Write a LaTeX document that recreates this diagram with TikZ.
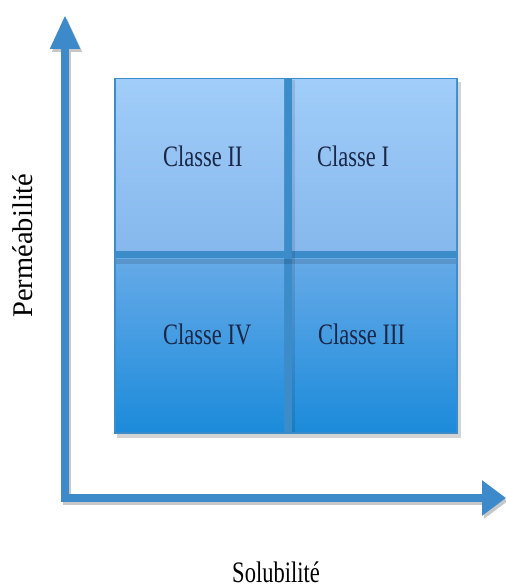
\documentclass[tikz,border=0pt]{standalone}
\usepackage{fontspec}
\setmainfont{Liberation Serif}
\usepackage{graphicx}
\usepackage{xcolor}
\usepackage{tikz}
\usetikzlibrary{arrows.meta,shadows}
\definecolor{axis}{HTML}{3D8ACB}
\definecolor{rule}{HTML}{3C8CC9}
\definecolor{hitop}{HTML}{A0CDF9}
\definecolor{hibot}{HTML}{86B8ED}
\definecolor{lotop}{HTML}{66AAE8}
\definecolor{lobot}{HTML}{1C8BDA}
\definecolor{ink}{HTML}{1A2747}
\newcommand{\tall}[1]{\scalebox{1}[1.32]{#1}}
\tikzset{
  axisline/.style={draw=axis, line width=8pt, line join=miter,
    {Triangle[width=28pt,length=34pt]}-{Triangle[width=34pt,length=24pt]}},
  axisshade/.style={axisline, draw=black!22, transform canvas={shift={(2pt,-3pt)}}},
  frame/.style={fill=rule, inner sep=0pt, minimum width=344pt, minimum height=356pt,
    drop shadow={shadow xshift=3pt, shadow yshift=-4pt, opacity=0.35}},
  hicell/.style={top color=hitop, bottom color=hibot, inner sep=0pt, minimum height=171pt},
  locell/.style={top color=lotop, bottom color=lobot, inner sep=0pt, minimum height=173pt},
  lab/.style={text=ink, inner sep=0pt, font=\fontsize{22.5}{27}\selectfont},
  labr/.style={text=black, inner sep=0pt, font=\fontsize{28.5}{32}\selectfont},
}

\begin{document}
\begin{tikzpicture}[x=1pt,y=1pt]
  \useasboundingbox (0,0) rectangle (506,587);
  \coordinate (ytop) at (65,572);
  \coordinate (orig) at (65,89);
  \coordinate (xtip) at (506,89);

  % axes
  \draw[axisshade] (ytop) -- (orig) -- (xtip);
  \draw[axisline] (ytop) -- (orig) -- (xtip);

  % grid
  \node[frame] (grid) at (286,331) {};
  \node[hicell, minimum width=168pt] (c2) at (200,421.5) {};
  \node[hicell, minimum width=164pt] (c1) at (374,421.5) {};
  \node[locell, minimum width=168pt] (c4) at (200,241.5) {};
  \node[locell, minimum width=164pt] (c3) at (374,241.5) {};
  \fill[black, opacity=0.12] (c4.north west) rectangle ([yshift=-5pt]c3.north east);
  \fill[black, opacity=0.10] (c1.north west) rectangle ([xshift=3pt]c3.south west);

  \node[lab, anchor=base west] (t2) at (163,420) {\tall{Classe II}};
  \node[lab, anchor=base west] (t1) at (317,420) {\tall{Classe I}};
  \node[lab, anchor=base west] (t4) at (163,242) {\tall{Classe IV}};
  \node[lab, anchor=base west] (t3) at (318,242) {\tall{Classe III}};

  \node[lab, text=black, anchor=base] (sol) at (276,5) {\tall{Solubilité}};
  \node[labr, rotate=90, anchor=base] (perm) at (32,341.5) {Perméabilité};
\end{tikzpicture}
\end{document}
